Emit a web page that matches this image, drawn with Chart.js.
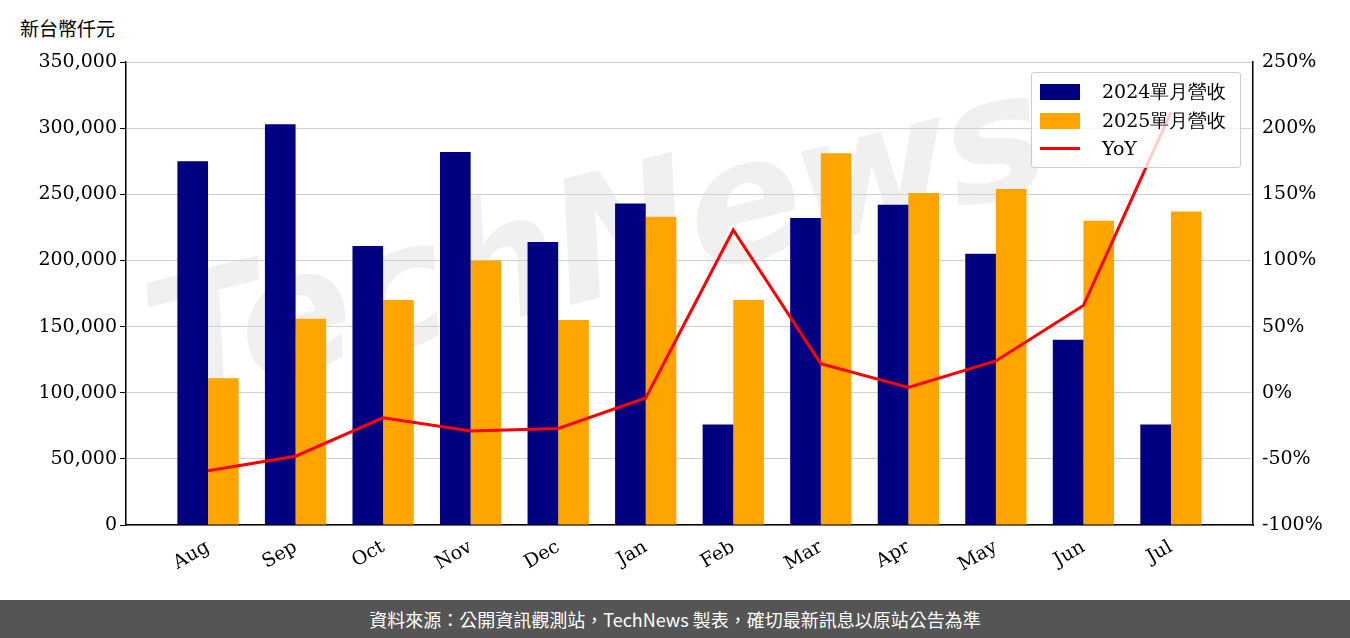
<!DOCTYPE html>
<html><head><meta charset="utf-8">
<script src="https://cdn.jsdelivr.net/npm/chart.js@4"></script>
<style>
body{margin:0;width:1350px;height:638px;background:#fff;position:relative;overflow:hidden;font-family:"DejaVu Serif",serif}
#wrap{position:absolute;left:0;top:0;width:1350px;height:600px;z-index:1}
#unit{position:absolute;left:20px;top:14px;font-size:19px;font-family:"Noto Sans CJK TC";color:#000}
#foot{position:absolute;left:0;top:600px;width:1350px;height:38px;background:#555;color:#fff;font-family:"Noto Sans CJK TC";font-size:18px;text-align:center;line-height:38px}
#leg{position:absolute;z-index:2;left:1031px;top:72px;width:208px;height:94px;border:1px solid #ccc;border-radius:3px;background:rgba(255,255,255,0.8);font-size:19px}
.row{position:absolute;left:8px;display:flex;align-items:center}
.sw{width:40px;height:16px;margin-right:22px}
#wm{position:absolute;z-index:0;left:150px;top:250px;font-size:170px;font-family:"DejaVu Sans";font-style:italic;font-weight:bold;color:rgba(180,180,180,0.2);transform:rotate(-14deg);transform-origin:left center;letter-spacing:-4px;white-space:nowrap}
</style></head><body>
<div id="wm">TechNews</div>
<div id="wrap"><canvas id="c" width="1350" height="600"></canvas></div>
<div id="unit">新台幣仟元</div>
<div id="leg">
<div class="row" style="top:6px"><div class="sw" style="background:#000080"></div>2024單月營收</div>
<div class="row" style="top:35px"><div class="sw" style="background:#FFA500"></div>2025單月營收</div>
<div class="row" style="top:64px"><div class="sw" style="height:3px;background:#f00"></div>YoY</div>
</div>
<div id="foot">資料來源：公開資訊觀測站，TechNews 製表，確切最新訊息以原站公告為準</div>
<script>
const categories=["Aug","Sep","Oct","Nov","Dec","Jan","Feb","Mar","Apr","May","Jun","Jul"];
const rev2024=[275000,303000,211000,282000,214000,243000,76000,232000,242000,205000,140000,76000];
const rev2025=[111000,156000,170000,200000,155000,233000,170000,281000,251000,254000,230000,237000];
const yoy=[-59,-48,-19,-29,-27,-4,123,22,4,24,66,212];
const font={family:"DejaVu Serif",size:19};
const pad=0.937;
new Chart(document.getElementById('c'),{
data:{labels:categories,datasets:[
{type:'line',data:yoy,yAxisID:'y1',borderColor:'#f00',borderWidth:3,pointRadius:0,order:0,tension:0},
{type:'bar',data:rev2024,backgroundColor:'#000080',yAxisID:'y',categoryPercentage:0.7,barPercentage:1,order:1},
{type:'bar',data:rev2025,backgroundColor:'#FFA500',yAxisID:'y',categoryPercentage:0.7,barPercentage:1,order:1}]},
options:{responsive:false,animation:false,layout:{padding:{top:62,left:0,right:0,bottom:0}},
plugins:{legend:{display:false},tooltip:{enabled:false}},
scales:{
x:{offset:false,
afterFit:s=>{s.height=75;s._startValue=-pad;s._valueRange=categories.length-1+2*pad;},
grid:{display:false},border:{color:'#000',width:1.5},ticks:{color:'#000',font,maxRotation:30,minRotation:30}},
y:{position:'left',min:0,max:350000,afterFit:s=>{s.width=126},ticks:{stepSize:50000,color:'#000',font,callback:v=>v.toLocaleString('en-US')},grid:{color:'#d0d0d0',drawTicks:true,tickColor:'#000',tickLength:6},border:{color:'#000',width:1.5}},
y1:{position:'right',min:-100,max:250,afterFit:s=>{s.width=97},ticks:{stepSize:50,color:'#000',font,callback:v=>v+'%'},grid:{display:false,tickColor:'#000',tickLength:6},border:{color:'#000',width:1.5}}
}}});
</script></body></html>
